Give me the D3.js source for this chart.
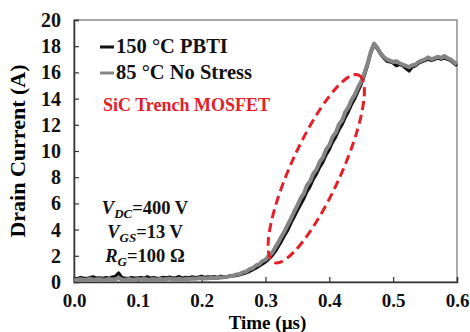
<!DOCTYPE html>
<html>
<head>
<meta charset="utf-8">
<script src="https://cdn.jsdelivr.net/npm/d3@7"></script>
<style>
  body { margin: 0; background: #fff; }
</style>
</head>
<body>
<script>
// Tamaño de la figura y márgenes
const WIDTH = 470;
const HEIGHT = 332;
const MARGIN = { top: 20, bottom: 50, right: 13, left: 74 };
const WIDTHVIS = WIDTH - MARGIN.left - MARGIN.right;
const HEIGHTVIS = HEIGHT - MARGIN.top - MARGIN.bottom;
const FUENTE = "Liberation Serif";

// Datos: tiempo (µs) y corriente de drenaje (A)
const timeUs = [
  0.000, 0.005, 0.010, 0.015, 0.020, 0.025, 0.030, 0.035, 0.040, 0.045,
  0.050, 0.055, 0.060, 0.065, 0.070, 0.075, 0.080, 0.085, 0.090, 0.095,
  0.100, 0.105, 0.110, 0.115, 0.120, 0.125, 0.130, 0.135, 0.140, 0.145,
  0.150, 0.155, 0.160, 0.165, 0.170, 0.175, 0.180, 0.185, 0.190, 0.195,
  0.200, 0.205, 0.210, 0.215, 0.220, 0.225, 0.230, 0.235, 0.240, 0.245,
  0.250, 0.255, 0.260, 0.265, 0.270, 0.275, 0.280, 0.285, 0.290, 0.295,
  0.300, 0.305, 0.310, 0.315, 0.320, 0.325, 0.330, 0.335, 0.340, 0.345,
  0.350, 0.355, 0.360, 0.365, 0.370, 0.375, 0.380, 0.385, 0.390, 0.395,
  0.400, 0.405, 0.410, 0.415, 0.420, 0.425, 0.430, 0.435, 0.440, 0.445,
  0.450, 0.455, 0.460, 0.465, 0.470, 0.475, 0.480, 0.485, 0.490, 0.495,
  0.500, 0.505, 0.510, 0.515, 0.520, 0.525, 0.530, 0.535, 0.540, 0.545,
  0.550, 0.555, 0.560, 0.565, 0.570, 0.575, 0.580, 0.585, 0.590, 0.595,
  0.600
];

// 150 °C PBTI (negro)
const currentPbti = [
  0.30, 0.25, 0.35, 0.30, 0.28, 0.35, 0.40, 0.30, 0.32, 0.28,
  0.35, 0.30, 0.38, 0.45, 0.70, 0.35, 0.30, 0.28, 0.35, 0.30,
  0.32, 0.35, 0.30, 0.40, 0.30, 0.35, 0.28, 0.30, 0.36, 0.32,
  0.38, 0.30, 0.35, 0.42, 0.30, 0.36, 0.33, 0.40, 0.35, 0.38,
  0.45, 0.36, 0.40, 0.38, 0.42, 0.35, 0.45, 0.40, 0.38, 0.50,
  0.45, 0.50, 0.55, 0.62, 0.70, 0.80, 0.92, 1.05, 1.20, 1.35,
  1.52, 1.75, 1.98, 2.30, 2.70, 3.10, 3.55, 3.95, 4.50, 4.95,
  5.45, 5.90, 6.35, 6.90, 7.30, 7.85, 8.25, 8.75, 9.15, 9.70,
  10.10, 10.65, 11.05, 11.60, 12.00, 12.55, 13.00, 13.55, 14.00, 14.55,
  15.10, 15.75, 16.55, 17.45, 18.10, 17.80, 17.40, 17.10, 16.85, 16.80,
  16.70, 16.50, 16.60, 16.50, 16.30, 16.10, 16.40, 16.50, 16.70, 16.80,
  16.90, 17.00, 16.90, 17.00, 17.10, 17.00, 17.10, 17.00, 16.90, 16.70,
  16.50
];

// 85 °C sin estrés (gris)
const currentNoStress = [
  0.20, 0.15, 0.22, 0.18, 0.20, 0.25, 0.18, 0.20, 0.22, 0.17,
  0.20, 0.24, 0.18, 0.22, 0.30, 0.20, 0.18, 0.22, 0.20, 0.17,
  0.22, 0.20, 0.25, 0.18, 0.20, 0.22, 0.18, 0.24, 0.20, 0.22,
  0.26, 0.20, 0.22, 0.25, 0.20, 0.24, 0.22, 0.26, 0.24, 0.28,
  0.30, 0.26, 0.28, 0.30, 0.32, 0.30, 0.34, 0.36, 0.40, 0.45,
  0.50, 0.58, 0.62, 0.75, 0.80, 0.98, 1.05, 1.26, 1.35, 1.60,
  1.70, 2.00, 2.20, 2.62, 3.00, 3.48, 3.90, 4.38, 4.85, 5.38,
  5.85, 6.38, 6.75, 7.38, 7.70, 8.28, 8.60, 9.18, 9.50, 10.12,
  10.45, 11.08, 11.40, 12.02, 12.35, 12.98, 13.35, 13.92, 14.30, 14.86,
  15.30, 15.95, 16.70, 17.60, 18.20, 17.90, 17.50, 17.20, 17.00, 16.90,
  16.80, 16.85, 16.70, 16.60, 16.50, 16.40, 16.55, 16.60, 16.80, 16.90,
  17.00, 17.15, 17.00, 17.10, 17.20, 17.10, 17.25, 17.10, 17.00, 16.80,
  16.60
];

const xTicks = [0.0, 0.1, 0.2, 0.3, 0.4, 0.5, 0.6];
const yTicks = [0, 2, 4, 6, 8, 10, 12, 14, 16, 18, 20];
const legendLabels = ["150 °C PBTI", "85 °C No Stress"];
// extremos de la elipse roja (en unidades de datos)
const ellipseTips = [[0.313, 1.5], [0.446, 15.8]];

const svg = d3.select("body")
  .append("svg")
  .attr("width", WIDTH)
  .attr("height", HEIGHT)
  .attr("font-family", FUENTE)
  .attr("font-weight", "bold");

const contenedor = svg.append("g")
  .attr("transform", `translate(${MARGIN.left} ${MARGIN.top})`);

const escalaX = d3.scaleLinear().domain([0, 0.6]).range([0, WIDTHVIS]);
const escalaY = d3.scaleLinear().domain([0, 20]).range([HEIGHTVIS, 0]);

// Marco superior y derecho
contenedor.append("rect")
  .attr("x", 0).attr("y", 0)
  .attr("width", WIDTHVIS).attr("height", HEIGHTVIS)
  .attr("fill", "none")
  .attr("stroke", "#555")
  .attr("stroke-width", 1);

// Ejes
const ejeY = d3.axisLeft(escalaY).tickValues(yTicks).tickSize(-5).tickPadding(13)
  .tickFormat(d3.format("d"));
contenedor.append("g").call(ejeY)
  .attr("font-family", FUENTE)
  .attr("font-size", 20)
  .call(g => g.select(".domain").attr("stroke", "#333").attr("stroke-width", 1.5))
  .call(g => g.selectAll("line").attr("stroke", "#333").attr("stroke-width", 1.2))
  .call(g => g.selectAll("text").attr("fill", "#111"));

const ejeX = d3.axisBottom(escalaX).tickValues(xTicks).tickSize(-5).tickPadding(12)
  .tickFormat(d3.format(".1f"));
contenedor.append("g")
  .attr("transform", `translate(0, ${HEIGHTVIS})`)
  .call(ejeX)
  .attr("font-family", FUENTE)
  .attr("font-size", 19)
  .call(g => g.select(".domain").attr("stroke", "#333").attr("stroke-width", 1.5))
  .call(g => g.selectAll("line").attr("stroke", "#333").attr("stroke-width", 1.2))
  .call(g => g.selectAll("text").attr("fill", "#111"));

// Títulos de ejes
svg.append("text")
  .attr("x", MARGIN.left + WIDTHVIS / 2 + 2)
  .attr("y", 329)
  .attr("text-anchor", "middle")
  .attr("font-size", 19)
  .text("Time (µs)");

svg.append("text")
  .attr("transform", `translate(25, 151) rotate(-90)`)
  .attr("text-anchor", "middle")
  .attr("font-size", 22)
  .text("Drain Current (A)");

// Curvas
const linea = (serie) => d3.line()
  .x((d, i) => escalaX(timeUs[i]))
  .y((d) => escalaY(d))(serie);

contenedor.append("path")
  .attr("d", linea(currentPbti))
  .attr("fill", "none")
  .attr("stroke", "#111")
  .attr("stroke-width", 3)
  .attr("stroke-linejoin", "round");

contenedor.append("path")
  .attr("d", linea(currentNoStress))
  .attr("fill", "none")
  .attr("stroke", "#858585")
  .attr("stroke-width", 4)
  .attr("stroke-linejoin", "round");

// Elipse discontinua roja
const [p0, p1] = ellipseTips.map(([t, i]) => [escalaX(t), escalaY(i)]);
const cx = (p0[0] + p1[0]) / 2;
const cy = (p0[1] + p1[1]) / 2;
const rx = Math.hypot(p1[0] - p0[0], p1[1] - p0[1]) / 2;
const ang = Math.atan2(p1[1] - p0[1], p1[0] - p0[0]) * 180 / Math.PI;
contenedor.append("ellipse")
  .attr("transform", `translate(${cx} ${cy}) rotate(${ang})`)
  .attr("rx", rx)
  .attr("ry", 25)
  .attr("fill", "none")
  .attr("stroke", "#e3202a")
  .attr("stroke-width", 3)
  .attr("stroke-dasharray", "9 5");

// Leyenda
const coloresLeyenda = ["#111", "#858585"];
legendLabels.forEach((lab, k) => {
  const y = 47 + k * 26;
  svg.append("line")
    .attr("x1", 100).attr("x2", 114)
    .attr("y1", y).attr("y2", y)
    .attr("stroke", coloresLeyenda[k])
    .attr("stroke-width", 3);
  svg.append("text")
    .attr("x", 116).attr("y", y + 6)
    .attr("font-size", 20.5)
    .attr("fill", "#111")
    .text(lab);
});

svg.append("text")
  .attr("x", 103).attr("y", 111)
  .attr("font-size", 18)
  .attr("fill", "#e3202a")
  .text("SiC Trench MOSFET");

// Condiciones de medida
const condiciones = [
  { v: "V", sub: "DC", rest: "=400 V" },
  { v: "V", sub: "GS", rest: "=13 V" },
  { v: "R", sub: "G", rest: "=100 Ω" },
];
condiciones.forEach((c, k) => {
  const t = svg.append("text")
    .attr("x", 145).attr("y", 214 + k * 24)
    .attr("text-anchor", "middle")
    .attr("font-size", 18.5)
    .attr("fill", "#111");
  t.append("tspan").attr("font-style", "italic").text(c.v);
  t.append("tspan").attr("font-style", "italic").attr("font-size", 13).attr("dy", 4).text(c.sub);
  t.append("tspan").attr("dy", -4).text(c.rest);
});
</script>
</body>
</html>
